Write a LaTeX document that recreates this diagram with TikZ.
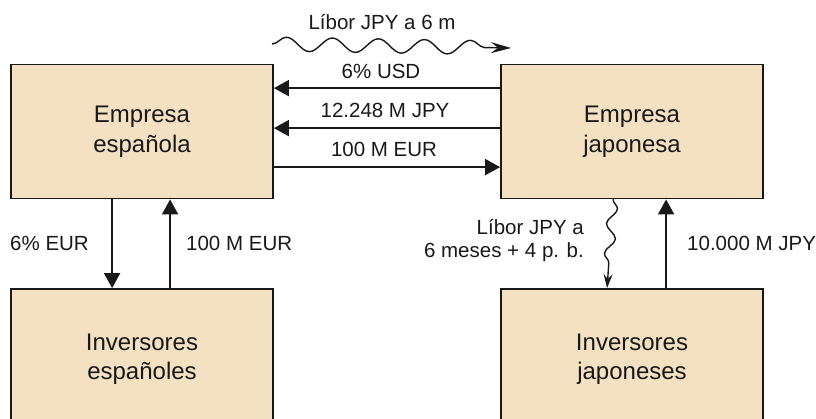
\documentclass[tikz,border=0pt]{standalone}
\usepackage{fontspec}
\setmainfont{Liberation Sans}
\usetikzlibrary{arrows.meta,decorations.pathmorphing,calc}
\definecolor{boxfill}{RGB}{244,225,194}
\definecolor{ink}{RGB}{25,25,25}
\tikzset{
  party/.style={draw=ink, line width=1.8pt, fill=boxfill, minimum width=262pt, align=center,
    font=\fontsize{24}{29.5}\selectfont, text=ink, inner sep=0pt},
  lbl/.style={font=\fontsize{20.5}{23.5}\selectfont, text=ink, inner sep=0pt},
  flow/.style={draw=ink, line width=1.8pt, -{Triangle[length=15pt,width=16pt]}},
  wavy/.style={draw=ink, line width=1.4pt, decorate},
}
\begin{document}
\begin{tikzpicture}[x=1pt,y=-1pt]
\useasboundingbox (0,0) rectangle (816,418);
\clip (0,0) rectangle (816,418);
\node[party, minimum height=134pt] (es) at (142,131.5) {Empresa\\española};
\node[party, minimum height=134pt] (jp) at (632,131.5) {Empresa\\japonesa};
\node[party, minimum height=140pt] (ies) at (142,359) {Inversores\\españoles};
\node[party, minimum height=140pt] (ijp) at (632,359) {Inversores\\japoneses};
% horizontal flows
\draw[flow] ([yshift=-24.5pt]jp.north west) -- ([yshift=-24.5pt]es.north east);
\draw[flow] ([yshift=-64.5pt]jp.north west) -- ([yshift=-64.5pt]es.north east);
\draw[flow] ([yshift=-103.5pt]es.north east) -- ([yshift=-103.5pt]jp.north west);
\node[lbl] (l1) at (381,71) {6\% USD};
\node[lbl] (l2) at (385,110) {12.248 M JPY};
\node[lbl] (l3) at (384,149) {100 M EUR};
% top wavy
\coordinate (w1) at (272,44);
\coordinate (w2) at (511,48);
\draw[wavy, decoration={snake, amplitude=7pt, segment length=46pt, post length=14pt},
  -{Stealth[length=20pt,width=11pt,inset=7pt]}] (w1) -- (w2);
\node[lbl] (lt) at (382,22) {Líbor JPY a 6 m};
% left verticals
\draw[flow] ([xshift=102pt]es.south west) -- ([xshift=102pt]ies.north west);
\draw[flow] ([xshift=160pt]ies.north west) -- ([xshift=160pt]es.south west);
\node[lbl, anchor=west] (l4) at (10,243) {6\% EUR};
\node[lbl, anchor=west] (l5) at (186,243) {100 M EUR};
% right verticals
\draw[wavy, decoration={snake, amplitude=5pt, segment length=30pt, post length=12pt},
  -{Stealth[length=14pt,width=9pt,inset=5pt]}] ([xshift=113pt]jp.south west) -- ([xshift=107pt]ijp.north west);
\draw[flow] ([xshift=166pt]ijp.north west) -- ([xshift=166pt]jp.south west);
\node[lbl, anchor=east, align=right] (l6) at (584,240.5) {Líbor JPY a\\6 meses + 4 p. b.};
\node[lbl, anchor=west] (l7) at (687,243) {10.000 M JPY};
\end{tikzpicture}
\end{document}
